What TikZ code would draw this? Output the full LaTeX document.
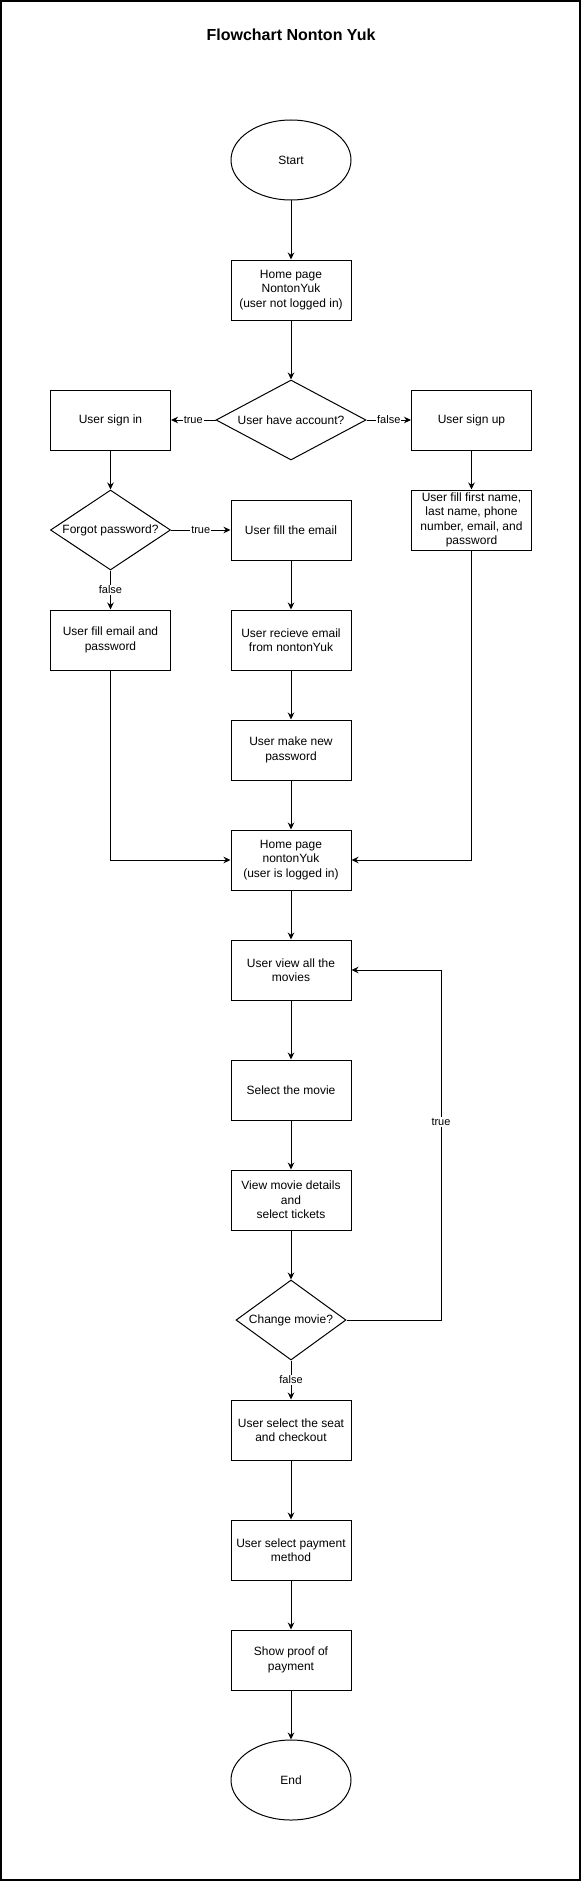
\documentclass[tikz,border=0pt]{standalone}
\usepackage{fontspec}
\setmainfont{Liberation Sans}
\usetikzlibrary{shapes.geometric,arrows.meta}
\begin{document}
\begin{tikzpicture}[x=1pt,y=-1pt,
  txt/.style={font=\fontsize{12}{14.4}\selectfont},
  box/.style={txt,draw,line width=1pt,rectangle,minimum width=120pt,minimum height=60pt,inner sep=0pt,align=center},
  term/.style={txt,draw,line width=1pt,ellipse,minimum width=120pt,minimum height=80pt,inner sep=0pt},
  dec/.style={txt,draw,line width=1pt,diamond,inner sep=0pt,align=center,minimum height=80pt},
  flow/.style={line width=1pt,-{Stealth[length=7pt,width=6.5pt]}},
  lbl/.style={fill=white,inner sep=1pt,font=\fontsize{11}{13}\selectfont}]
\useasboundingbox (0,0) rectangle (582,1881);
\draw[line width=1.5pt] (1,1) rectangle (580,1880);
\node[font=\fontsize{16}{19}\selectfont\bfseries] (title) at (291,35) {Flowchart Nonton Yuk};

\node[term] (start) at (291,160) {Start};
\node[box] (home1) at (291,290) {Home page\\NontonYuk\\(user not logged in)};
\node[dec,minimum width=150pt,aspect=1.875] (q1) at (291,420) {User have account?};
\node[box] (signin) at (110.5,420) {User sign in};
\node[box] (signup) at (471.5,420) {User sign up};
\node[dec,minimum width=120pt,aspect=1.5] (forgot) at (110.5,530) {Forgot password?};
\node[box] (fillemail) at (291,530) {User fill the email};
\node[box] (fillsignup) at (471.5,520) {User fill first name,\\last name, phone\\number, email, and\\password};
\node[box] (fillep) at (110.5,640) {User fill email and\\password};
\node[box] (recieve) at (291,640) {User recieve email\\from nontonYuk};
\node[box] (newpass) at (291,750) {User make new\\password};
\node[box] (home2) at (291,860) {Home page\\nontonYuk\\(user is logged in)};
\node[box] (viewall) at (291,970) {User view all the\\movies};
\node[box] (selmovie) at (291,1090) {Select the movie};
\node[box] (details) at (291,1200) {View movie details\\and\\select tickets};
\node[dec,minimum width=110pt,aspect=1.375] (change) at (291,1320) {Change movie?};
\node[box] (seat) at (291,1430) {User select the seat\\and checkout};
\node[box] (payment) at (291,1550) {User select payment\\method};
\node[box] (proof) at (291,1660) {Show proof of\\payment};
\node[term] (endn) at (291,1780) {End};

\coordinate (c1) at (441,1320);
\coordinate (c2) at (441,970);

\draw[flow] (start) -- (home1);
\draw[flow] (home1) -- (q1);
\draw[flow] (q1.west) -- node[lbl] {true} (signin.east);
\draw[flow] (q1.east) -- node[lbl] {false} (signup.west);
\draw[flow] (signin) -- (forgot);
\draw[flow] (signup) -- (fillsignup);
\draw[flow] (forgot.east) -- node[lbl] {true} (fillemail.west);
\draw[flow] (forgot.south) -- node[lbl] {false} (fillep.north);
\draw[flow] (fillemail) -- (recieve);
\draw[flow] (recieve) -- (newpass);
\draw[flow] (newpass) -- (home2);
\draw[flow] (fillep.south) |- (home2.west);
\draw[flow] (fillsignup.south) |- (home2.east);
\draw[flow] (home2) -- (viewall);
\draw[flow] (viewall) -- (selmovie);
\draw[flow] (selmovie) -- (details);
\draw[flow] (details) -- (change);
\draw[flow] (change.east) -- (c1) -- node[lbl,pos=0.566] {true} (c2) -- (viewall.east);
\draw[flow] (change.south) -- node[lbl] {false} (seat.north);
\draw[flow] (seat) -- (payment);
\draw[flow] (payment) -- (proof);
\draw[flow] (proof) -- (endn);
\end{tikzpicture}
\end{document}
